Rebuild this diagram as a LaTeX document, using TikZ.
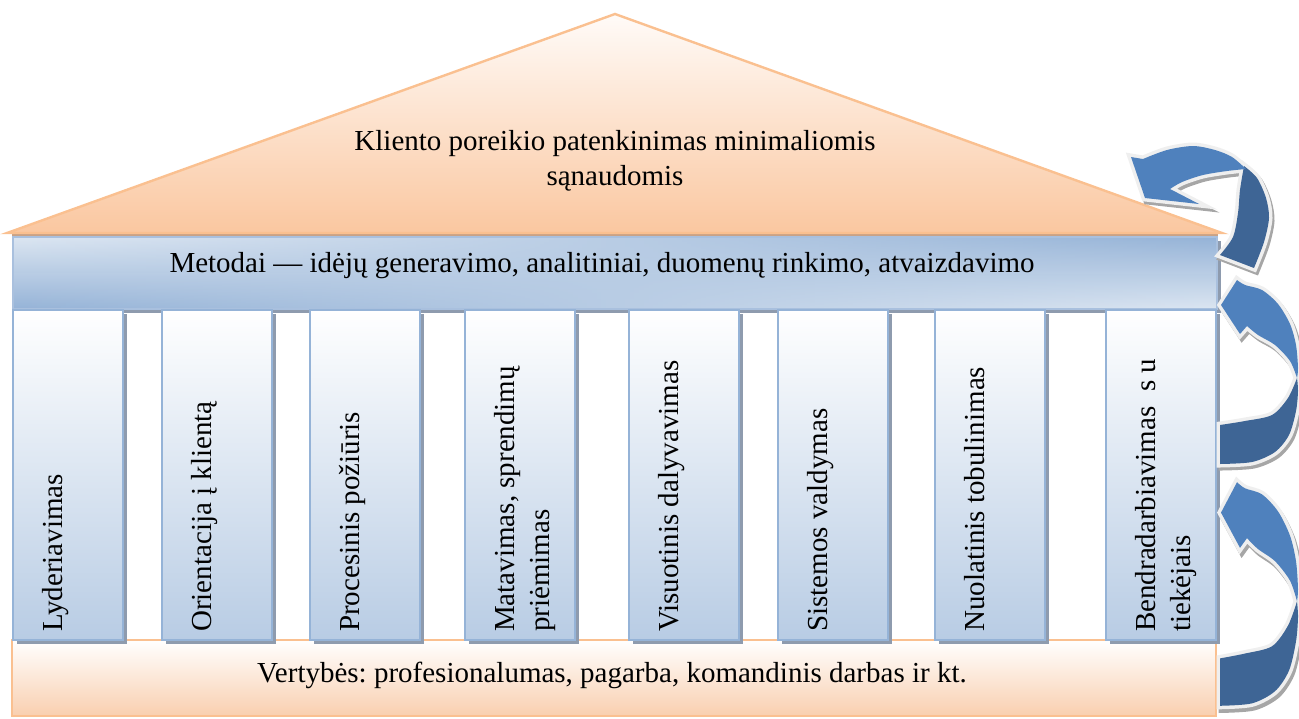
\documentclass[tikz,border=0pt]{standalone}
\usepackage{fontspec}
\setmainfont{Liberation Serif}
\usetikzlibrary{calc,fadings}

\definecolor{roofEdge}{HTML}{FAC090}
\definecolor{roofHigh}{HTML}{FFFBF8}
\definecolor{roofLow}{HTML}{FAC7A0}
\definecolor{roofShadow}{HTML}{C9A285}
\definecolor{barLight}{HTML}{DCE6F2}
\definecolor{barDark}{HTML}{95B3D7}
\definecolor{barEdge}{HTML}{A9C0DE}
\definecolor{pillarLow}{HTML}{B8CCE4}
\definecolor{pillarEdge}{HTML}{95B3D7}
\definecolor{boxShadow}{HTML}{8E9BAE}
\definecolor{baseLow}{HTML}{F9CFAF}
\definecolor{arrowFront}{HTML}{4F81BD}
\definecolor{arrowBack}{HTML}{3E6595}
\definecolor{arrowRim}{HTML}{EFEFEF}
\definecolor{arrowShade}{HTML}{A6A6A6}

% C-shaped return arrow, origin at the middle of its bend:
% front crescent with the head, back crescent with the tail
\def\ringfront{(1,-67) -- (17,-92)
  -- plot[smooth] coordinates {(17,-92) (25,-87) (42,-82) (58,-68) (70,-48) (76,-27) (78,-4) (77,6)}
  -- plot[smooth] coordinates {(77,6) (70,-11) (55,-27) (38,-37) (27,-46)}
  -- (20,-38) -- cycle}
\def\ringback{(77,6)
  -- plot[smooth] coordinates {(77,6) (78,19) (76,39) (69,63) (55,80) (32,90) (0,92)}
  -- (0,53)
  -- plot[smooth] coordinates {(0,53) (25,49) (52,43) (68,26) (77,6)} -- cycle}
% top arrow bending back over the roof
\def\hookfront{(1131,157) -- (1145,198) -- (1199,204) -- (1170,189)
  -- plot[smooth] coordinates {(1170,189) (1182,182) (1203,175) (1227,171) (1246,169)}
  -- plot[smooth] coordinates {(1246,169) (1232,157) (1215,150) (1193,146) (1167,150) (1143,159)}
  -- cycle}
\def\hookback{(1244,166)
  -- plot[smooth] coordinates {(1244,166) (1257,178) (1266,198) (1269,218) (1264,242) (1254,268)}
  -- (1220,255)
  -- plot[smooth] coordinates {(1220,255) (1233,237) (1238,213) (1240,190) (1244,166)} -- cycle}

\tikzset{
  roof/.style={draw=roofEdge, line width=2.4pt, line join=miter, top color=roofHigh, bottom color=roofLow},
  pillar/.style={draw=pillarEdge, line width=1.6pt, top color=white, bottom color=pillarLow},
  plinth/.style={draw=roofEdge, line width=2.4pt, top color=white, bottom color=baseLow},
  pillar text/.style={rotate=90, anchor=north west, align=left, inner sep=0pt},
  arrow shadow/.style={draw=arrowShade, fill=arrowShade, line width=7pt, line join=miter},
  arrow rim/.style={draw=arrowRim, line width=7pt, line join=miter},
  ring arrow/.pic={
    \path[arrow shadow, shift={(2,3)}] \ringfront;
    \path[arrow shadow, shift={(2,3)}] \ringback;
    \path[arrow rim] \ringback;
    \path[arrow rim] \ringfront;
    \fill[arrowBack] \ringback;
    \fill[arrowFront] \ringfront;
  },
}

\begin{document}
\frenchspacing
\begin{tikzpicture}[x=1pt, y=-1pt, font=\fontsize{29}{35}\selectfont]
\useasboundingbox (0,0) rectangle (1299,718);

% roof
\coordinate (apex) at (615,14);
\coordinate (eaveL) at (7,233);
\coordinate (eaveR) at (1222,233);
\fill[roofShadow] (12,233) rectangle (1218,237);
\shadedraw[roof] (apex) -- (eaveR) -- (eaveL) -- cycle;
\node[anchor=base, align=center, inner sep=0pt] (goal) at (615,185)
  {Kliento poreikio patenkinimas minimaliomis\\sąnaudomis};

% beam of methods: light on top at the left end, light below at the right end
\fill[boxShadow] (17,241) rectangle (1221,313);
\shade[top color=barLight, bottom color=barDark] (13,237) rectangle (1217,309);
\shade[top color=barDark, bottom color=barLight, path fading=west] (13,237) rectangle (1217,309);
\draw[barEdge, line width=1.2pt] (13,237) rectangle (1217,309);
\node[anchor=base, inner sep=0pt] (methods) at (602,272)
  {Metodai — idėjų generavimo, analitiniai, duomenų rinkimo, atvaizdavimo};

% base of values
\shadedraw[plinth] (12,640) rectangle (1216,716);
\node[anchor=base, inner sep=0pt] (values) at (612,682)
  {Vertybės: profesionalumas, pagarba, komandinis darbas ir kt.};

% pillars
\foreach \n/\x/\txt in {
  1/13/Lyderiavimas,
  2/162/Orientacija į klientą,
  3/310/Procesinis požiūris,
  4/465/{Matavimas, sprendimų\\priėmimas},
  5/629/Visuotinis dalyvavimas,
  6/778/Sistemos valdymas,
  7/935/Nuolatinis tobulinimas,
  8/1106/{Bendradarbiavimas~~s u\\tiekėjais}} {
  \fill[boxShadow] (\x+4,314) rectangle (\x+114,644);
  \shadedraw[pillar] (\x,310) rectangle (\x+110,640);
  \node[pillar text] (label\n) at (\x+29,632) {\txt};
}

% return arrows
\path[arrow shadow, shift={(2,3)}] \hookfront;
\path[arrow shadow, shift={(2,3)}] \hookback;
\path[arrow rim] \hookback;
\path[arrow rim] \hookfront;
\fill[arrowBack] \hookback;
\fill[arrowFront] \hookfront;

\pic at (1220,372) {ring arrow};
\pic[yscale=1.215] at (1220,594) {ring arrow};
\end{tikzpicture}
\end{document}
